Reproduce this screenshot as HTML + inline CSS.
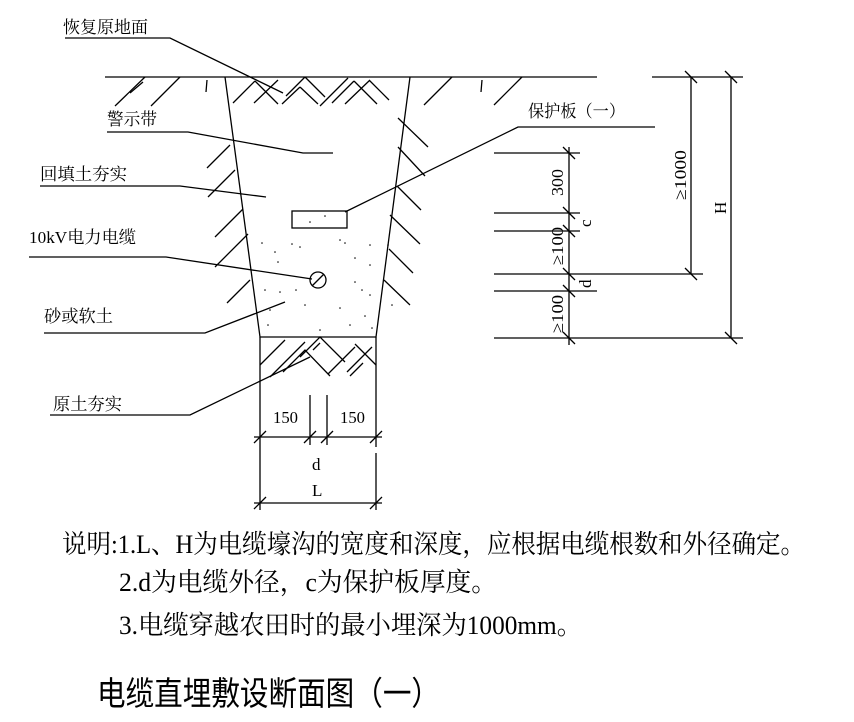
<!DOCTYPE html>
<html><head><meta charset="utf-8"><style>html,body{margin:0;padding:0;background:#fff}svg{display:block}</style></head>
<body>
<svg width="854" height="722" viewBox="0 0 854 722" xmlns="http://www.w3.org/2000/svg" font-family="'Liberation Serif','Noto Serif CJK SC','Noto Sans CJK SC',serif" fill="#000">
<g stroke="#000" stroke-width="1.3" fill="none">
<line x1="105" y1="77" x2="597" y2="77"/>
<line x1="652" y1="77" x2="743" y2="77"/>
<polyline points="225,77 260,337 376,337 410,77"/>
<line x1="260" y1="337" x2="260" y2="510"/>
<line x1="376" y1="337" x2="376" y2="447"/>
<line x1="376" y1="453" x2="376" y2="510"/>
<path d="M233,103 L255,81 M255,81 L278,104 M254,103 L278,80 M282,104 L300,87 M300,87 L318,104 M286,96 L305,77 M305,77 L325,97 M332,103 L354,81 M354,81 L377,104 M320,106 L348,78 M369,80 L389,100 M345,104 L370,80"/>
<path d="M115,106 L145,77 M151,106 L180,77 M207,168 L230,145 M208,197 L235,170 M215,237 L243,209 M215,267 L248,234 M227,303 L250,280"/>
<path d="M143,82 L130,93 M207,80 L206,92 M482,80 L481,92"/>
<path d="M424,105 L452,77 M494,105 L522,77 M398,118 L428,147 M398,147 L425,176 M397,186 L421,210 M390,215 L420,244 M389,249 L413,273 M384,280 L410,305"/>
<path d="M260,365 L285,340 M270,377 L305,342 M283,372 L305,350 L330,376 M300,357 L320,337 L345,362 M328,374 L355,347 M350,376 L363,363 M347,372 L372,347 M355,344 L376,365 M313,350 L320,343"/>
<circle cx="318" cy="280" r="8"/>
<line x1="312" y1="286" x2="324" y2="274"/>
<rect x="292" y="211" width="55" height="17"/>
<polyline points="65,38 170,38 283,93"/>
<polyline points="107,132 188,132 303,153 333,153"/>
<polyline points="40,186 180,186 266,197"/>
<polyline points="29,257 166,257 312,279"/>
<polyline points="44,333 205,333 285,302"/>
<polyline points="50,415 190,415 310,357"/>
<polyline points="655,127 518,127 345,212"/>
<line x1="494" y1="153" x2="580" y2="153"/>
<line x1="494" y1="213" x2="580" y2="213"/>
<line x1="494" y1="231" x2="580" y2="231"/>
<line x1="494" y1="274" x2="703" y2="274"/>
<line x1="494" y1="291" x2="597" y2="291"/>
<line x1="494" y1="338" x2="743" y2="338"/>
<line x1="569" y1="147" x2="569" y2="345"/>
<line x1="691" y1="77" x2="691" y2="274"/>
<line x1="731" y1="77" x2="731" y2="338"/>
<path d="M563,147 L575,159 M563,207 L575,219 M563,225 L575,237 M563,268 L575,280 M563,285 L575,297 M563,332 L575,344 M685,71 L697,83 M685,268 L697,280 M725,71 L737,83 M725,332 L737,344"/>
<line x1="310" y1="395" x2="310" y2="445"/>
<line x1="327" y1="395" x2="327" y2="445"/>
<line x1="254" y1="437" x2="382" y2="437"/>
<line x1="254" y1="503" x2="382" y2="503"/>
<path d="M254,443 L266,431 M304,443 L316,431 M321,443 L333,431 M370,443 L382,431 M254,509 L266,497 M370,509 L382,497"/>
</g>
<g fill="#000">
<circle cx="262" cy="243" r=".8"/><circle cx="275" cy="252" r=".8"/><circle cx="292" cy="244" r=".8"/><circle cx="300" cy="247" r=".8"/><circle cx="340" cy="240" r=".8"/><circle cx="345" cy="243" r=".8"/><circle cx="370" cy="245" r=".8"/><circle cx="278" cy="262" r=".8"/><circle cx="355" cy="258" r=".8"/><circle cx="370" cy="265" r=".8"/><circle cx="265" cy="290" r=".8"/><circle cx="280" cy="292" r=".8"/><circle cx="296" cy="290" r=".8"/><circle cx="355" cy="282" r=".8"/><circle cx="362" cy="290" r=".8"/><circle cx="370" cy="295" r=".8"/><circle cx="270" cy="310" r=".8"/><circle cx="305" cy="305" r=".8"/><circle cx="340" cy="308" r=".8"/><circle cx="365" cy="316" r=".8"/><circle cx="268" cy="325" r=".8"/><circle cx="320" cy="330" r=".8"/><circle cx="350" cy="325" r=".8"/><circle cx="372" cy="328" r=".8"/><circle cx="388" cy="245" r=".8"/><circle cx="392" cy="305" r=".8"/><circle cx="310" cy="222" r=".8"/><circle cx="325" cy="216" r=".8"/>
</g>
<g font-size="17">
<text x="63" y="33" textLength="85" lengthAdjust="spacingAndGlyphs">恢复原地面</text>
<text x="107" y="125" textLength="50" lengthAdjust="spacingAndGlyphs">警示带</text>
<text x="40" y="180" textLength="87" lengthAdjust="spacingAndGlyphs">回填土夯实</text>
<text x="29" y="243" textLength="107" lengthAdjust="spacingAndGlyphs">10kV电力电缆</text>
<text x="44" y="322" textLength="69" lengthAdjust="spacingAndGlyphs">砂或软土</text>
<text x="53" y="410" textLength="69" lengthAdjust="spacingAndGlyphs">原土夯实</text>
<text x="528" y="117" textLength="97" lengthAdjust="spacingAndGlyphs">保护板（一）</text>
<text x="273" y="423" textLength="25" lengthAdjust="spacingAndGlyphs">150</text>
<text x="340" y="423" textLength="25" lengthAdjust="spacingAndGlyphs">150</text>
<text x="312" y="470">d</text>
<text x="312" y="496">L</text>
<text transform="translate(563,196) rotate(-90)" textLength="27" lengthAdjust="spacingAndGlyphs">300</text>
<text transform="translate(591,227) rotate(-90)">c</text>
<text transform="translate(563,265) rotate(-90)" textLength="38" lengthAdjust="spacingAndGlyphs">≥100</text>
<text transform="translate(591,288) rotate(-90)">d</text>
<text transform="translate(563,333) rotate(-90)" textLength="38" lengthAdjust="spacingAndGlyphs">≥100</text>
<text transform="translate(686,200) rotate(-90)" textLength="50" lengthAdjust="spacingAndGlyphs">≥1000</text>
<text transform="translate(726,214) rotate(-90)">H</text>
</g>
<g font-size="26">
<text x="62" y="553" textLength="743" lengthAdjust="spacingAndGlyphs">说明:1.L、H为电缆壕沟的宽度和深度，应根据电缆根数和外径确定。</text>
<text x="119" y="591" textLength="378" lengthAdjust="spacingAndGlyphs">2.d为电缆外径，c为保护板厚度。</text>
<text x="119" y="634" textLength="463" lengthAdjust="spacingAndGlyphs">3.电缆穿越农田时的最小埋深为1000mm。</text>
</g>
<text x="97" y="705" font-size="33" font-family="'Liberation Sans','Noto Sans CJK SC',sans-serif" textLength="343" lengthAdjust="spacingAndGlyphs">电缆直埋敷设断面图（一）</text>
</svg>
</body></html>
